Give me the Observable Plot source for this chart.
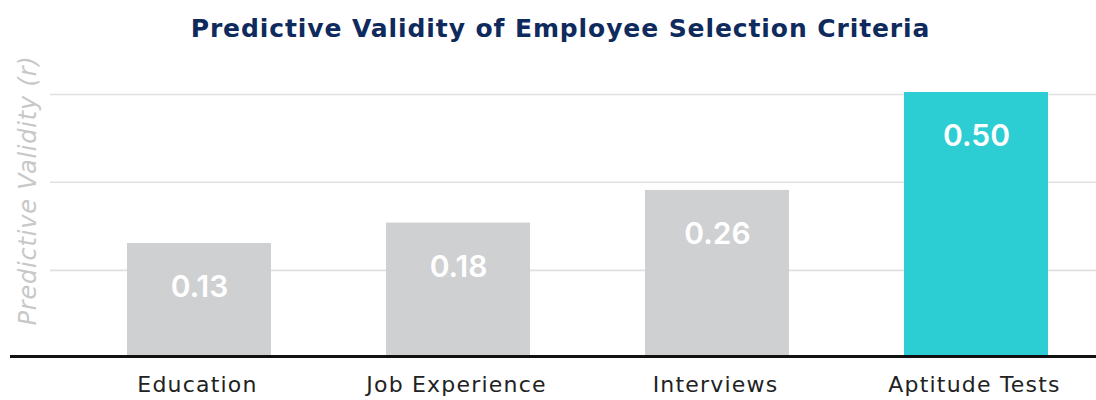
<!DOCTYPE html>
<html><head><meta charset="utf-8">
<script src="https://cdn.jsdelivr.net/npm/d3@7"></script>
<script src="https://cdn.jsdelivr.net/npm/@observablehq/plot@0.6"></script>
<style>
body{margin:0;background:#fff;font-family:Inter, sans-serif;}
#title{height:55px;line-height:57px;text-align:center;padding-left:25px;font-family:"DejaVu Sans",sans-serif;font-size:25px;font-weight:700;letter-spacing:0.9px;color:#0f2a5c;white-space:nowrap;}
</style></head><body>
<div id="title">Predictive Validity of Employee Selection Criteria</div>
<div id="chart"></div>
<script>
const categories = ["Education", "Job Experience", "Interviews", "Aptitude Tests"];
const validity = [0.13, 0.18, 0.26, 0.50];
const highlighted = [false, false, false, true];
const gridValues = [0.064, 0.28, 0.495];
const yLabel = "Predictive Validity (r)";
const yMin = -0.147;
const yMax = 0.5;

const data = categories.map((c, i) => ({
  category: c,
  value: validity[i],
  color: highlighted[i] ? "#2ccdd3" : "#cfd0d2",
  label: validity[i].toFixed(2)
}));

const chart = Plot.plot({
  width: 1096,
  height: 345,
  marginTop: 37,
  marginBottom: 44,
  marginLeft: 10,
  marginRight: 0,
  style: {fontFamily: "Inter, sans-serif", background: "#fff", overflow: "visible"},
  x: {domain: categories, range: [67, 1106.75], paddingInner: 0.4455, paddingOuter: 0.2228, axis: null},
  y: {domain: [yMin, yMax], axis: null},
  color: {type: "identity"},
  marks: [
    Plot.ruleY(gridValues, {stroke: "#e0e0e0", strokeWidth: 1.6, insetLeft: 40}),
    Plot.barY(data, {x: "category", y1: yMin, y2: "value", fill: "color"}),
    Plot.ruleY([yMin], {stroke: "#111", strokeWidth: 3}),
    Plot.text(data, {x: "category", y: "value", text: "label", dy: 44, fill: "#fff", fontSize: 30, fontWeight: 600}),
    Plot.text(data, {x: "category", frameAnchor: "bottom", text: "category", dy: 35, dx: -2, fill: "#222", fontSize: 22, fontWeight: 400, fontFamily: "DejaVu Sans, sans-serif"}),
    Plot.text([yLabel], {frameAnchor: "left", textAnchor: "middle", rotate: -90, dx: 18, dy: -34, fill: "#c8c8c8", fontSize: 24, fontStyle: "italic", fontWeight: 200, fontFamily: "DejaVu Sans, sans-serif"})
  ]
});
const textGroups = d3.select(chart).selectAll('g[aria-label="text"]').nodes();
d3.select(textGroups[1]).style("letter-spacing", "1.2px");
d3.select(textGroups[2]).style("letter-spacing", "0.8px");
document.getElementById("chart").appendChild(chart);
</script>
</body></html>
